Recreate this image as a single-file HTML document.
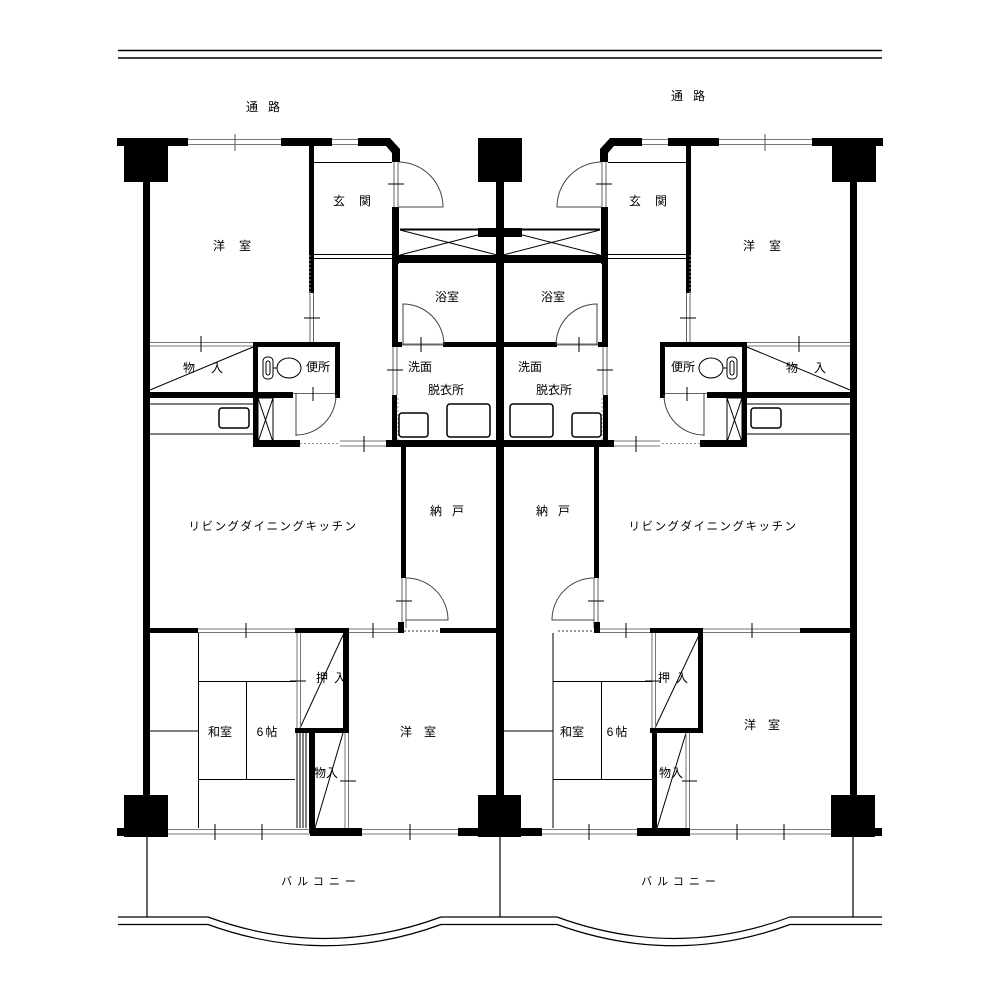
<!DOCTYPE html>
<html><head><meta charset="utf-8"><style>
html,body{margin:0;padding:0;background:#fff;}
svg{display:block;}
text{font-family:"Liberation Sans","Noto Sans CJK JP",sans-serif;font-size:12px;fill:#000;text-anchor:middle;dominant-baseline:central;}
</style></head><body>
<svg width="1000" height="1000" viewBox="0 0 1000 1000" xmlns="http://www.w3.org/2000/svg">
<rect width="1000" height="1000" fill="#fff"/>
<line x1="118" y1="50.5" x2="882" y2="50.5" stroke="#000" stroke-width="1.5"/>
<line x1="118" y1="58" x2="882" y2="58" stroke="#000" stroke-width="1.5"/>

<defs>
<g id="top">
 <g fill="#000">
  <rect x="117" y="138" width="71" height="8"/>
  <rect x="281" y="138" width="51" height="8"/>
  <rect x="358" y="138" width="27" height="8"/>
  <polygon points="385,138 390,138 400,149 400,162 392,162 392,153 386,146 385,146"/>
  <rect x="124" y="138" width="44" height="44"/>
  <rect x="143" y="182" width="7" height="618"/>
  <rect x="309" y="146" width="5" height="147"/>
  <rect x="392" y="207" width="7" height="57"/>
  <rect x="392" y="255" width="108" height="8"/>
  <rect x="478" y="228" width="22" height="9"/>
  <rect x="478" y="138" width="22" height="44"/>
  <rect x="496" y="182" width="4" height="650"/>
  <rect x="392" y="263" width="6" height="82"/>
  <rect x="392" y="342" width="10" height="5"/>
  <rect x="443" y="342" width="57" height="5"/>
  <rect x="392" y="395" width="5" height="52"/>
  <rect x="386" y="440" width="114" height="7"/>
  <rect x="150" y="392" width="143" height="6"/>
  <rect x="253" y="342" width="5" height="105"/>
  <rect x="253" y="342" width="87" height="5"/>
  <rect x="335" y="342" width="5" height="56"/>
  <rect x="253" y="440" width="47" height="7"/>
  <rect x="401" y="447" width="5" height="131"/>
 </g>
 <g fill="none" stroke="#000" stroke-width="1">
  <line x1="188" y1="139.5" x2="281" y2="139.5" stroke="#777"/>
  <line x1="188" y1="144.5" x2="281" y2="144.5" stroke="#777"/>
  <line x1="235" y1="134" x2="235" y2="151" stroke="#555"/>
  <line x1="332" y1="139.5" x2="358" y2="139.5" stroke="#777"/>
  <line x1="332" y1="144.5" x2="358" y2="144.5" stroke="#777"/>
  <line x1="310" y1="293" x2="310" y2="342" stroke="#666"/>
  <line x1="313.5" y1="293" x2="313.5" y2="342" stroke="#666"/>
  <line x1="304" y1="318" x2="320" y2="318"/>
  <line x1="310" y1="255" x2="310" y2="293" stroke="#999" stroke-dasharray="2,2"/>
  <line x1="314" y1="162.5" x2="392" y2="162.5"/>
  <line x1="314" y1="254.5" x2="392" y2="254.5"/>
  <line x1="314" y1="258.5" x2="392" y2="258.5"/>
  <line x1="394" y1="162" x2="394" y2="207" stroke="#666"/>
  <line x1="398" y1="162" x2="398" y2="207" stroke="#666"/>
  <line x1="388" y1="184" x2="404" y2="184"/>
  <path d="M399,162 A45,45 0 0 1 443,207 L399,207" stroke="#444"/>
  <line x1="400" y1="229.5" x2="478" y2="229.5" stroke-width="2"/>
  <line x1="400" y1="230" x2="497" y2="255"/>
  <line x1="400" y1="255" x2="497" y2="230"/>
  <line x1="402" y1="344.5" x2="443" y2="344.5" stroke="#666" stroke-width="2"/>
  <line x1="421" y1="337" x2="421" y2="352"/>
  <path d="M444,345 A41,41 0 0 0 403,304 L403,345" stroke="#444"/>
  <line x1="393" y1="347" x2="393" y2="395" stroke="#666"/>
  <line x1="397" y1="347" x2="397" y2="395" stroke="#666"/>
  <line x1="387" y1="370" x2="403" y2="370"/>
  <line x1="398" y1="398" x2="398" y2="440" stroke="#999" stroke-dasharray="2,2"/>
  <rect x="399" y="413" width="29" height="24" rx="3" stroke-width="1.5"/>
  <rect x="447" y="404" width="43" height="33" rx="3" stroke-width="1.5"/>
  <line x1="150" y1="342.5" x2="253" y2="342.5" stroke="#777"/>
  <line x1="150" y1="346" x2="253" y2="346" stroke="#777"/>
  <line x1="201" y1="336" x2="201" y2="352"/>
  <line x1="253" y1="347" x2="150" y2="390"/>
  <rect x="263" y="357" width="10" height="22" rx="4"/>
  <rect x="266" y="361" width="4" height="14" rx="2"/>
  <ellipse cx="289" cy="368" rx="12" ry="10"/>
  <line x1="273" y1="368" x2="277" y2="368"/>
  <line x1="293" y1="393.5" x2="335" y2="393.5" stroke="#666"/>
  <line x1="313" y1="387" x2="313" y2="401"/>
  <line x1="296" y1="393" x2="296" y2="436" stroke="#444"/>
  <path d="M336,395 A40,40 0 0 1 296,435" stroke="#444"/>
  <line x1="150" y1="404" x2="253" y2="404"/>
  <line x1="150" y1="434" x2="253" y2="434"/>
  <rect x="219" y="408" width="30" height="20" rx="3" stroke-width="1.5"/>
  <rect x="258" y="398" width="15" height="44"/>
  <line x1="258" y1="398" x2="273" y2="442"/>
  <line x1="273" y1="398" x2="258" y2="442"/>
  <line x1="300" y1="443.5" x2="340" y2="443.5" stroke="#999" stroke-dasharray="2,2"/>
  <line x1="340" y1="441" x2="386" y2="441" stroke="#777"/>
  <line x1="340" y1="446" x2="386" y2="446" stroke="#777"/>
  <line x1="364" y1="436" x2="364" y2="452"/>
  <line x1="402" y1="578" x2="402" y2="628" stroke="#666"/>
  <line x1="406" y1="578" x2="406" y2="628" stroke="#666"/>
  <line x1="396" y1="601" x2="412" y2="601"/>
  <path d="M406,578 A42,42 0 0 1 448,620 L406,620" stroke="#444"/>
 </g>
</g>
</defs>
<use href="#top"/>
<use href="#top" transform="translate(1000,0) scale(-1,1)"/>

<g fill="#000">
 <rect x="150" y="628" width="48" height="5"/>
 <rect x="295" y="628" width="54" height="5"/>
 <rect x="398" y="622" width="6" height="11"/>
 <rect x="440" y="628" width="60" height="5"/>
 <rect x="343" y="628" width="6" height="105"/>
 <rect x="295" y="728" width="54" height="5"/>
 <rect x="309" y="733" width="6" height="100"/>
 <rect x="310" y="828" width="52" height="8"/>
 <rect x="458" y="828" width="20" height="8"/>
 <rect x="478" y="795" width="43" height="42"/>
 <rect x="124" y="795" width="44" height="42"/>
 <rect x="117" y="828" width="7" height="8"/>
</g>
<g fill="none" stroke="#000" stroke-width="1">
 <line x1="198" y1="629" x2="295" y2="629" stroke="#777"/>
 <line x1="198" y1="632.5" x2="295" y2="632.5" stroke="#777"/>
 <line x1="246" y1="623" x2="246" y2="638"/>
 <line x1="349" y1="629" x2="398" y2="629" stroke="#777"/>
 <line x1="349" y1="632.5" x2="398" y2="632.5" stroke="#777"/>
 <line x1="373" y1="623" x2="373" y2="638"/>
 <line x1="404" y1="631" x2="440" y2="631" stroke="#999" stroke-dasharray="2,2" stroke-width="2"/>
 <line x1="344" y1="633" x2="300" y2="728"/>
 <line x1="297" y1="633" x2="297" y2="728" stroke="#777"/>
 <line x1="300.5" y1="633" x2="300.5" y2="728" stroke="#777"/>
 <line x1="290" y1="681" x2="306" y2="681"/>
 <line x1="343" y1="733" x2="315" y2="828"/>
 <line x1="345" y1="733" x2="345" y2="828" stroke="#777"/>
 <line x1="348.5" y1="733" x2="348.5" y2="828" stroke="#777"/>
 <line x1="340" y1="781" x2="356" y2="781"/>
 <line x1="297" y1="733" x2="297" y2="828"/>
 <line x1="300" y1="733" x2="300" y2="828"/>
 <line x1="303" y1="733" x2="303" y2="828"/>
 <line x1="306" y1="733" x2="306" y2="828"/>
 <line x1="168" y1="829.5" x2="310" y2="829.5" stroke="#777"/>
 <line x1="168" y1="834" x2="310" y2="834" stroke="#777"/>
 <line x1="215" y1="824" x2="215" y2="840"/>
 <line x1="262" y1="824" x2="262" y2="840"/>
 <line x1="362" y1="829.5" x2="458" y2="829.5" stroke="#777"/>
 <line x1="362" y1="834" x2="458" y2="834" stroke="#777"/>
 <line x1="410" y1="824" x2="410" y2="840"/>
 <line x1="198.5" y1="633" x2="198.5" y2="828"/>
 <line x1="198" y1="681.5" x2="296" y2="681.5"/>
 <line x1="198" y1="779.5" x2="295" y2="779.5"/>
 <line x1="246.5" y1="681" x2="246.5" y2="779"/>
 <line x1="150" y1="731" x2="198" y2="731"/>
</g>

<g fill="#000">
 <rect x="594" y="622" width="6" height="11"/>
 <rect x="650" y="628" width="53" height="5"/>
 <rect x="800" y="628" width="50" height="5"/>
 <rect x="698" y="628" width="5" height="105"/>
 <rect x="650" y="728" width="53" height="5"/>
 <rect x="652" y="728" width="5" height="105"/>
 <rect x="521" y="828" width="21" height="8"/>
 <rect x="637" y="828" width="53" height="8"/>
 <rect x="831" y="795" width="44" height="42"/>
 <rect x="875" y="828" width="7" height="8"/>
</g>
<g fill="none" stroke="#000" stroke-width="1">
 <line x1="558" y1="631" x2="594" y2="631" stroke="#999" stroke-dasharray="2,2" stroke-width="2"/>
 <line x1="600" y1="629" x2="650" y2="629" stroke="#777"/>
 <line x1="600" y1="632.5" x2="650" y2="632.5" stroke="#777"/>
 <line x1="626" y1="623" x2="626" y2="638"/>
 <line x1="703" y1="629" x2="800" y2="629" stroke="#777"/>
 <line x1="703" y1="632.5" x2="800" y2="632.5" stroke="#777"/>
 <line x1="752" y1="623" x2="752" y2="638"/>
 <line x1="700" y1="633" x2="655" y2="728"/>
 <line x1="652" y1="633" x2="652" y2="728" stroke="#777"/>
 <line x1="655.5" y1="633" x2="655.5" y2="728" stroke="#777"/>
 <line x1="645" y1="681" x2="661" y2="681"/>
 <line x1="686" y1="733" x2="657" y2="828"/>
 <line x1="686" y1="733" x2="686" y2="828" stroke="#777"/>
 <line x1="689.5" y1="733" x2="689.5" y2="828" stroke="#777"/>
 <line x1="682" y1="781" x2="697" y2="781"/>
 <line x1="542" y1="829.5" x2="637" y2="829.5" stroke="#777"/>
 <line x1="542" y1="834" x2="637" y2="834" stroke="#777"/>
 <line x1="589" y1="824" x2="589" y2="840"/>
 <line x1="690" y1="829.5" x2="831" y2="829.5" stroke="#777"/>
 <line x1="690" y1="834" x2="831" y2="834" stroke="#777"/>
 <line x1="737" y1="824" x2="737" y2="840"/>
 <line x1="784" y1="824" x2="784" y2="840"/>
 <line x1="553" y1="633" x2="553" y2="828"/>
 <line x1="553" y1="681.5" x2="652" y2="681.5"/>
 <line x1="553" y1="779.5" x2="652" y2="779.5"/>
 <line x1="601.5" y1="681" x2="601.5" y2="779"/>
 <line x1="503" y1="731" x2="553" y2="731"/>
</g>

<g fill="none" stroke="#000" stroke-width="1.2">
 <line x1="147" y1="837" x2="147" y2="917"/>
 <line x1="500" y1="837" x2="500" y2="917"/>
 <line x1="853" y1="837" x2="853" y2="917"/>
 <path d="M118,917 L208,917 Q325,960 441,917 L557,917 Q675,960 790,917 L882,917"/>
 <path d="M118,924.5 L208,924.5 Q325,967 441,924.5 L557,924.5 Q675,967 790,924.5 L882,924.5"/>
</g>

<text x="268" y="107" style="letter-spacing:10px">通路</text>
<text x="693" y="96" style="letter-spacing:10px">通路</text>
<text x="239" y="246" style="letter-spacing:14px">洋室</text>
<text x="769" y="246" style="letter-spacing:14px">洋室</text>
<text x="359" y="201" style="letter-spacing:14px">玄関</text>
<text x="655" y="201" style="letter-spacing:14px">玄関</text>
<text x="447" y="297">浴室</text>
<text x="553" y="297">浴室</text>
<text x="420" y="367">洗面</text>
<text x="530" y="367">洗面</text>
<text x="446" y="390">脱衣所</text>
<text x="554" y="390">脱衣所</text>
<text x="318" y="367">便所</text>
<text x="683" y="367">便所</text>
<text x="211" y="368" style="letter-spacing:16px">物入</text>
<text x="814" y="368" style="letter-spacing:16px">物入</text>
<text x="273" y="527" style="letter-spacing:1.5px;font-size:11.5px">リビングダイニングキッチン</text>
<text x="713" y="527" style="letter-spacing:1.5px;font-size:11.5px">リビングダイニングキッチン</text>
<text x="452" y="511" style="letter-spacing:10px">納戸</text>
<text x="558" y="511" style="letter-spacing:10px">納戸</text>
<text x="334" y="678" style="letter-spacing:6px">押入</text>
<text x="676" y="678" style="letter-spacing:6px">押入</text>
<text x="220" y="732">和室</text>
<text x="572" y="732">和室</text>
<text x="268" y="732" style="letter-spacing:2px">6帖</text>
<text x="618" y="732" style="letter-spacing:2px">6帖</text>
<text x="424" y="732" style="letter-spacing:12px">洋室</text>
<text x="768" y="725" style="letter-spacing:12px">洋室</text>
<text x="326" y="773">物入</text>
<text x="671" y="773">物入</text>
<text x="321" y="882" style="letter-spacing:5px;font-size:11px">バルコニー</text>
<text x="681" y="882" style="letter-spacing:5px;font-size:11px">バルコニー</text>
</svg>
</body></html>
